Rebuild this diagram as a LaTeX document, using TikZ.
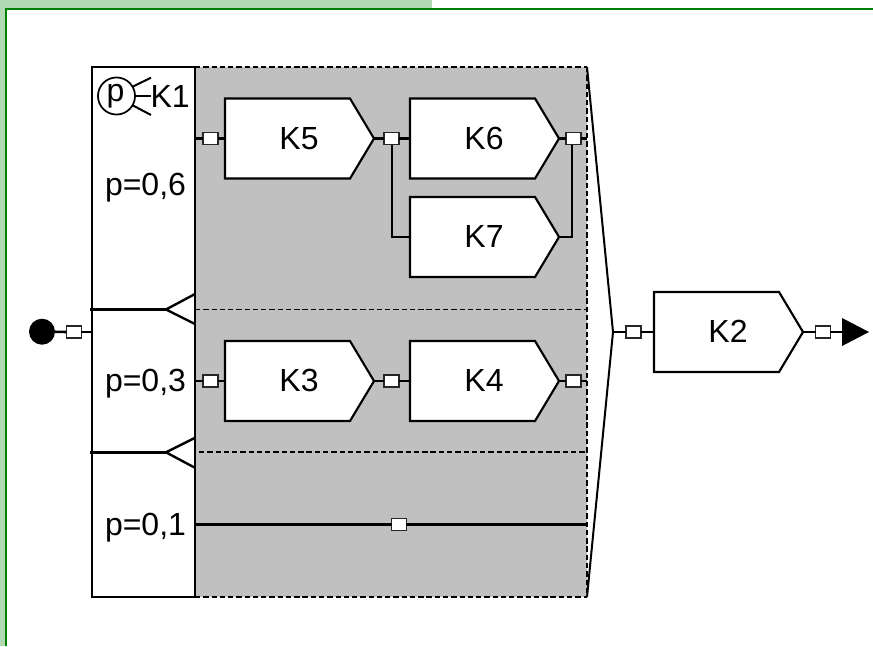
\documentclass[tikz,border=0pt]{standalone}
\usepackage{fontspec}
\setmainfont{Liberation Sans}
\usetikzlibrary{calc}
\definecolor{lightgreen}{HTML}{B2DAB2}
\definecolor{darkgreen}{HTML}{008000}
\definecolor{panelgray}{HTML}{C0C0C0}
\tikzset{
  wire/.style={line width=2pt,black},
  thinwire/.style={line width=1.5pt,black},
  divider/.style={line width=1.7pt,black,dash pattern=on 4pt off 2.2pt},
  port/.style={draw=black!85,fill=white,line width=1.4pt,rectangle,minimum width=11.2pt,minimum height=9pt,inner sep=0pt,outer sep=0pt},
  blockshape/.style={draw=black,fill=white,line width=1.6pt,line join=miter},
  label/.style={inner sep=0pt,outer sep=0pt,anchor=base,font=\fontsize{24}{24}\selectfont},
  labelw/.style={label,anchor=base west},
}
% name, left x, centre y, text
\newcommand{\blockpent}[4]{%
  \coordinate (#1-w) at (#2,#3);
  \coordinate (#1-e) at ($(#2,#3)+(149,0)$);
  \draw[blockshape] ($(#2,#3)+(0,-40)$) -- ($(#2,#3)+(125,-40)$) -- (#1-e) -- ($(#2,#3)+(125,40)$) -- ($(#2,#3)+(0,40)$) -- cycle;
  \node[label] (#1) at ($(#2,#3)+(74,10.5)$) {#4};
}
\begin{document}
\begin{tikzpicture}[x=0.75pt,y=-0.75pt]
\useasboundingbox (0,0) rectangle (873,646);
% frame
\fill[lightgreen] (0,0) rectangle (432,8);
\fill[lightgreen] (0,0) rectangle (5,646);
\draw[darkgreen,line width=1.7pt] (6,646) -- (6,9) -- (873,9);
% panel and probability box
\node[fill=panelgray,minimum width=294pt,minimum height=397.5pt,inner sep=0pt,outer sep=0pt] (panel) at (391,332) {};
\node[draw=black,fill=white,line width=1.5pt,minimum width=77.25pt,minimum height=397.5pt,inner sep=0pt,outer sep=0pt] (k1box) at (143.5,332) {};
% dashed borders
\coordinate (div1) at (195,309.5);
\coordinate (div2) at (195,452.3);
\draw[divider] (panel.north west) -- (panel.north east);
\draw[divider] (panel.south west) -- (panel.south east);
\draw[divider,line width=1.4pt] (div1) -- (div1 -| panel.east);
\draw[divider] ([xshift=3pt]div2) -- (div2 -| panel.east);
\draw[divider] (panel.north east) -- (panel.south east);
% wedge
\coordinate (join) at (613,332);
\draw[thinwire,line join=miter] (panel.north east) -- (join) -- (panel.south east);
% branch markers
\coordinate (tip1) at (166,309.5);
\coordinate (tip2) at (166,452.3);
\draw[wire] ($(div1 -| k1box.west)+(-2,0)$) -- (tip1);
\draw[wire] ($(div2 -| k1box.west)+(-2,0)$) -- (tip2);
\draw[thinwire,line width=1.8pt,line join=miter] ($(div1)+(0,-15.5)$) -- (tip1) -- ($(div1)+(0,14.5)$);
\draw[thinwire,line width=1.8pt,line join=miter] ($(div2)+(0,-14.5)$) -- (tip2) -- ($(div2)+(0,15.5)$);
% blocks
\blockpent{k5}{225}{138.5}{K5}
\blockpent{k6}{410}{138.5}{K6}
\blockpent{k7}{410}{237}{K7}
\blockpent{k3}{225}{381}{K3}
\blockpent{k4}{410}{381}{K4}
\blockpent{k2}{654}{332}{K2}
% start and end
\node[circle,fill=black,minimum size=19.5pt,inner sep=0pt,outer sep=0pt] (start) at (42,331.7) {};
\coordinate (endbase) at (842,332);
\coordinate (endtip) at (869,332);
\fill[black] ($(endbase)+(0,-14)$) -- (endtip) -- ($(endbase)+(0,14)$) -- cycle;
% ports
\node[port] (p1) at (74,332) {};
\node[port] (p5a) at (210.5,138.5) {};
\node[port] (p5b) at (391.5,138.5) {};
\node[port] (p6) at (573.5,138.5) {};
\node[port] (p3a) at (210.5,381) {};
\node[port] (p3b) at (391.5,381) {};
\node[port] (p4) at (573.5,381) {};
\node[port] (p0) at (399,524.5) {};
\node[port] (p2a) at (633.5,332) {};
\node[port] (p2b) at (823,332) {};
% connectors
\draw[wire] (start) -- (p1);
\draw[wire] (p1) -- (p1 -| k1box.west);
\draw[wire] (p5a -| k1box.east) -- (p5a);
\draw[wire] (p5a) -- (k5-w);
\draw[wire] (k5-e) -- (p5b);
\draw[wire] (p5b) -- (k6-w);
\draw[wire] (k6-e) -- (p6);
\draw[wire] (p6) -- (p6 -| panel.east);
\draw[thinwire] (p5b.south) |- (k7-w);
\draw[thinwire] ($(p6.south)+(-1.5,0)$) |- (k7-e);
\draw[wire] (p3a -| k1box.east) -- (p3a);
\draw[wire] (p3a) -- (k3-w);
\draw[wire] (k3-e) -- (p3b);
\draw[wire] (p3b) -- (k4-w);
\draw[wire] (k4-e) -- (p4);
\draw[wire] (p4) -- (p4 -| panel.east);
\draw[wire] (p0 -| k1box.east) -- (p0);
\draw[wire] (p0) -- (p0 -| panel.east);
\draw[wire] (join) -- (p2a);
\draw[wire] (p2a) -- (k2-w);
\draw[wire] (k2-e) -- (p2b);
\draw[wire] (p2b) -- (endbase);
% texts
\node[labelw] (t1) at (150.6,107) {K1};
\node[labelw] (t6) at (105,195) {p=0,6};
\node[labelw] (t3) at (105,391.7) {p=0,3};
\node[labelw] (t0) at (105,535.7) {p=0,1};
% K1 symbol
\node[circle,draw=black,line width=1.3pt,fill=white,minimum size=27.8pt,inner sep=0pt,outer sep=0pt] (sym) at (116.5,96) {};
\node[label] (symp) at (115.5,101) {p};
\coordinate (r1) at (151,77.7);
\coordinate (r2) at (151,96);
\coordinate (r3) at (151,115);
\draw[thinwire] (sym.30) -- (r1);
\draw[thinwire] (sym.east) -- (r2);
\draw[thinwire] (sym.-30) -- (r3);
\end{tikzpicture}
\end{document}
